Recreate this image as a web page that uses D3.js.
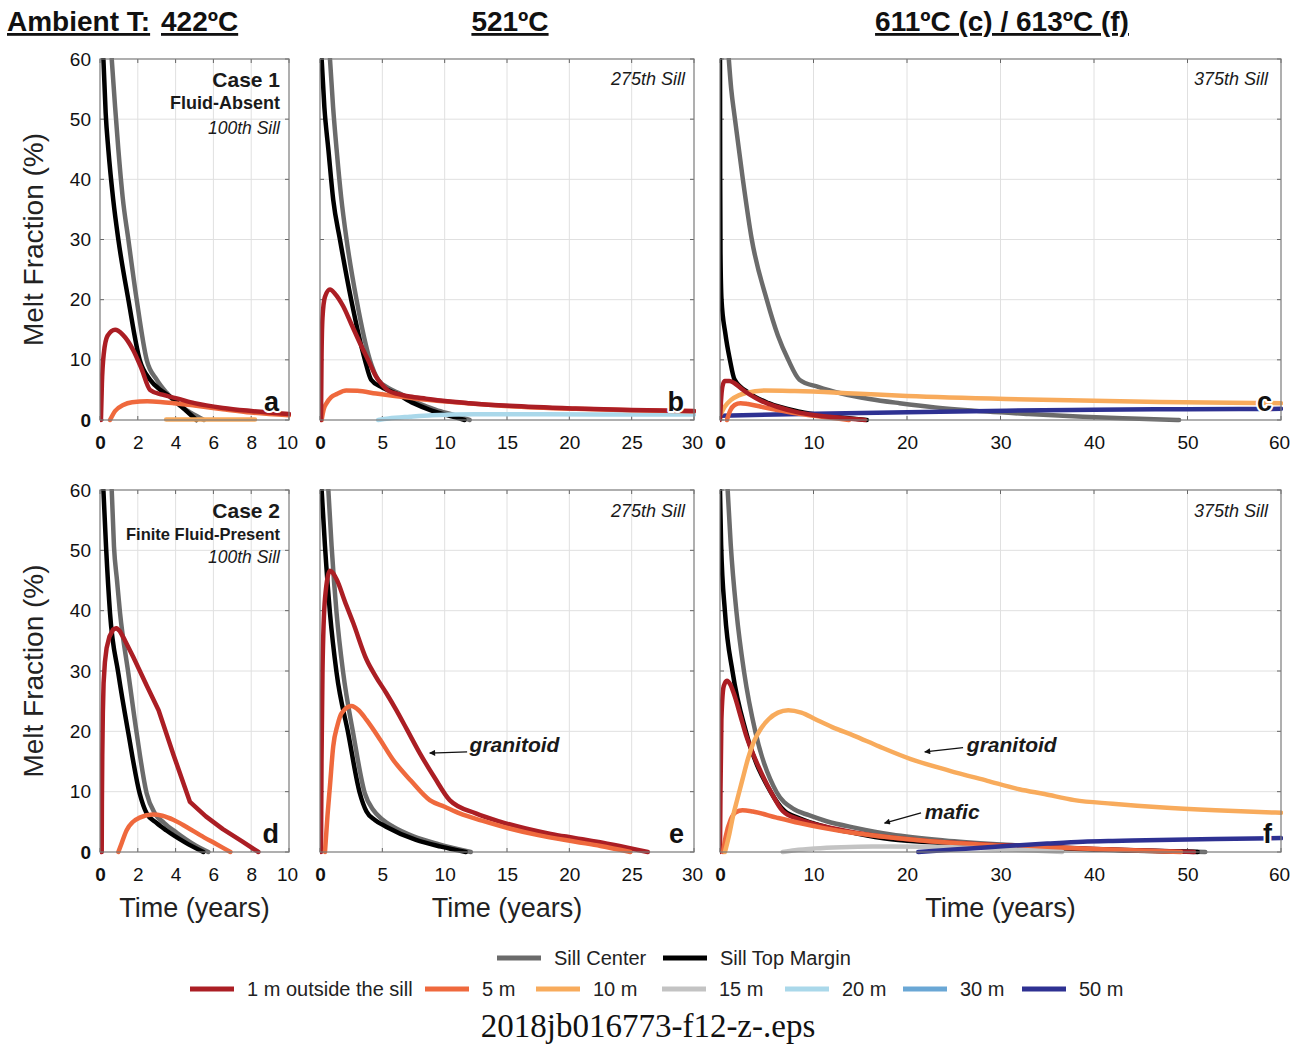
<!DOCTYPE html>
<html><head><meta charset="utf-8">
<script src="https://cdn.jsdelivr.net/npm/d3@7"></script>
<style>body{margin:0;background:#fff}svg{display:block}</style>
</head><body>
<script>
// ---------- DATA (time in years, melt fraction in %) ----------
const yTicks = [0,10,20,30,40,50,60];
const xTicksCol1 = [0,2,4,6,8,10];
const xTicksCol2 = [0,5,10,15,20,25,30];
const xTicksCol3 = [0,10,20,30,40,50,60];
const columnTitles = ["422ºC","521ºC","611ºC (c) / 613ºC (f)"];

// panel a
const a_center = [[0.62,60],[0.8,52],[0.97,45],[1.2,37],[1.5,30],[1.94,20],[2.47,10],[3.0,6.7],[3.5,4.6],[4.06,2.8],[4.8,1.2],[5.5,0]];
const a_margin = [[0.18,60],[0.3,51],[0.44,45],[0.7,36.6],[0.97,30],[1.5,20],[2.1,10],[2.65,6.7],[3.2,5],[3.7,3.9],[4.4,2],[5.1,0]];
const a_1m = [[0.05,0],[0.1,6],[0.2,11],[0.4,14],[0.8,15],[1.2,14.2],[1.76,11.6],[2.2,8.5],[2.65,5],[3.3,4.2],[4.06,3.6],[5,2.8],[6.5,2.0],[8,1.5],[10,1.0]];
const a_5m = [[0.53,0],[0.8,1.5],[1.23,2.5],[1.7,2.95],[2.5,3.1],[3.2,3.0],[3.9,2.8],[5,2.4],[6.5,1.8],[8,1.25],[10,0.8]];
const a_10m = [[3.5,0.1],[8.2,0.1]];
// panel b
const b_center = [[0.8,60],[1.05,52],[1.33,45],[1.7,37],[2.13,30],[2.93,20],[4.0,10],[4.66,6.7],[5.5,5.3],[6.4,4.4],[8,2.7],[9.3,1.7],[10.8,0.8],[12,0]];
const b_margin = [[0.13,60],[0.35,52],[0.67,45],[1.06,36.6],[1.6,30],[2.5,20],[3.6,10],[4.1,6.7],[5,5.4],[6.1,4.4],[7.5,2.8],[8.8,1.7],[10.2,0.8],[11.6,0]];
const b_1m = [[0.08,0],[0.12,10],[0.2,17],[0.4,20.5],[0.8,21.7],[1.2,21],[1.86,18.9],[2.5,16],[3.2,12.8],[3.9,9.8],[4.5,7.2],[5.0,5.8],[5.46,4.9],[6.3,4.3],[7.2,3.9],[8.5,3.55],[9.85,3.2],[12,2.8],[15.2,2.35],[20.5,1.9],[25,1.65],[30,1.5]];
const b_5m = [[0.13,0],[0.3,1.8],[0.53,2.8],[0.9,3.8],[1.33,4.3],[2.1,4.9],[3,4.85],[4.5,4.4],[6,4.0],[7.2,3.7],[9.85,3.1],[12,2.75],[15.2,2.3],[20.5,1.85],[25,1.6],[30,1.45]];
const b_20m = [[4.66,0],[5.5,0.25],[7.2,0.55],[9,0.8],[12.5,0.95],[18,0.95],[25,0.92],[30,0.9]];
// panel c
const c_center = [[0.94,60],[1.2,55],[1.56,50.5],[2.4,40.5],[3.4,30],[5.0,20],[6.2,14],[7.3,10],[8.5,6.7],[10.5,5.5],[13,4.4],[16,3.5],[19.2,2.8],[23,2.1],[28.6,1.4],[33,1],[38.8,0.55],[44,0.25],[49.1,0]];
const c_margin = [[0,60],[0.02,40],[0.05,28],[0.16,20],[0.57,14.4],[1.06,10],[1.56,6.7],[3.2,4.4],[5.2,2.8],[8.5,1.4],[12,0.6],[15.7,0]];
const c_1m = [[0,0],[0.1,3],[0.25,5.5],[0.5,6.5],[1.0,6.5],[1.56,6.1],[2.3,5.2],[3.2,4.2],[4.5,3.1],[6.1,2.2],[8,1.4],[10.2,0.8],[13,0.35],[15.5,0]];
const c_5m = [[0.74,0],[1.1,1.6],[1.56,2.5],[2.2,2.8],[3,2.65],[4.4,2.2],[6,1.7],[8.1,1.1],[10.5,0.6],[13.8,0]];
const c_10m = [[0.12,1.1],[0.5,2.2],[1.15,3.3],[2,4.1],[2.8,4.5],[4.8,4.9],[8,4.8],[14.3,4.4],[20,4.0],[30.6,3.5],[40,3.2],[47,3.0],[60,2.8]];
const c_50m = [[0,0.7],[10.2,1.05],[20,1.3],[30.6,1.55],[40,1.7],[50,1.8],[60,1.85]];
// panel d
const d_center = [[0.62,60],[0.74,50.6],[0.9,45],[1.06,39.6],[1.5,29.6],[1.94,19.7],[2.47,9.7],[2.9,6.4],[3.4,4.8],[4.06,3.2],[4.9,1.4],[5.73,0]];
const d_margin = [[0.18,60],[0.32,50.6],[0.53,39.6],[0.97,29.6],[1.5,19.7],[2.1,9.7],[2.47,6.4],[3.0,4.8],[3.5,3.6],[4.5,1.6],[5.47,0]];
const d_1m = [[0.09,0],[0.1,8],[0.12,16],[0.15,23],[0.19,28],[0.26,31.5],[0.35,33.8],[0.5,35.7],[0.7,36.9],[0.88,37.1],[1.05,36.6],[1.3,35.2],[1.76,32.3],[2.47,27.6],[3.1,23.5],[3.9,16],[4.76,8.3],[5.6,5.9],[6.5,3.8],[7.5,1.8],[8.38,0]];
const d_5m = [[0.97,0],[1.15,1.5],[1.41,3.6],[2.1,5.7],[2.8,6.2],[3.3,6.0],[3.9,5.3],[4.6,4.1],[5.3,2.8],[6.1,1.4],[6.9,0]];
// panel e
const e_center = [[0.67,60],[0.93,50.7],[1.33,39.6],[1.86,29.7],[2.66,19.7],[3.6,9.7],[4.26,7],[5.0,5.4],[5.86,4.2],[7.5,2.6],[9.5,1.3],[12.1,0]];
const e_margin = [[0.13,60],[0.4,50.7],[0.8,39.6],[1.33,29.7],[2.26,19.7],[3.2,9.7],[3.73,6.7],[4.4,5.3],[5.3,4.2],[7.7,2],[9.7,0.9],[11.7,0]];
const e_1m = [[0.08,0],[0.12,15],[0.2,30],[0.4,42],[0.8,46.6],[1.33,45.2],[2.0,41.5],[2.66,38],[3.73,31.9],[4.5,29],[5.3,26.4],[6.1,23.6],[7,20.2],[8,16.4],[9.2,12.3],[10.4,8.6],[12.5,6.4],[14.5,5],[16.5,3.9],[18.5,3],[20.5,2.3],[23.5,1.2],[26.3,0]];
const e_5m = [[0.4,0],[0.6,6],[0.8,11],[1.06,17.5],[1.4,21],[1.73,23],[2.53,24.2],[3.1,23.5],[3.73,21.9],[4.8,18.7],[5.86,15.3],[7.3,11.8],[8.8,8.6],[10,7.5],[11.2,6.4],[13,5.2],[15.2,3.9],[17.5,2.8],[20.5,1.7],[22.5,1],[24.9,0]];
// panel f
const f_center = [[0.82,60],[1.15,50.9],[1.76,39.8],[2.58,29.8],[3.8,19.8],[6.06,9.9],[7.9,7.1],[9.5,6.1],[11.4,5.1],[14.5,4],[18.3,2.9],[24,1.9],[30.6,1.2],[40,0.5],[51.9,0]];
const f_margin = [[0,60],[0.12,50.9],[0.53,39.8],[1.35,29.8],[2.8,19.8],[5.45,9.9],[6.9,6.8],[8.5,5.6],[11,4.3],[14.5,3.1],[18.3,2.1],[24,1.5],[30.6,1.0],[40,0.4],[51.1,0]];
const f_1m = [[0,0],[0.05,10],[0.15,22],[0.4,27.5],[0.74,28.4],[1.1,27.8],[1.56,25.9],[2.2,22.5],[2.8,19.3],[3.6,16],[4.4,13.2],[5.5,9.8],[6.7,6.8],[8.5,5.4],[11,4.3],[14.5,3.2],[18.3,2.4],[24,1.6],[30.6,1.1],[40,0.5],[50.7,0]];
const f_5m = [[0.33,0],[0.6,2.5],[1.15,5.4],[1.7,6.6],[2.4,6.9],[3.5,6.7],[6.06,5.7],[8.5,4.8],[11,4.0],[14.5,3.1],[18.3,2.4],[24,1.6],[30.6,1.0],[40,0.5],[49.3,0]];
const f_10m = [[0.53,0],[1.0,3],[1.4,6],[1.76,8.2],[2.4,12],[3.0,15.5],[3.6,18.2],[4.4,20.5],[5.2,22],[6.2,23.1],[7.3,23.5],[8.7,23.1],[10.2,22],[12,20.7],[14.3,19.3],[17,17.5],[20.4,15.4],[24.5,13.5],[28.6,11.8],[32,10.4],[34.7,9.6],[37.9,8.6],[42,8.0],[47,7.4],[53,6.9],[60,6.5]];
const f_15m = [[6.7,0],[8,0.3],[10.2,0.6],[13,0.8],[16.3,0.9],[22.4,0.85],[27,0.65],[30.6,0.45],[34,0.2],[36.6,0]];
const f_50m = [[21.2,0],[25,0.4],[30.6,1.0],[35,1.4],[38.8,1.7],[43,1.85],[47,2.0],[53,2.15],[60,2.3]];

const legendRow1 = [["center","Sill Center"],["margin","Sill Top Margin"]];
const legendRow2 = [["m1","1 m outside the sill"],["m5","5 m"],["m10","10 m"],["m15","15 m"],["m20","20 m"],["m30","30 m"],["m50","50 m"]];

// ---------- STYLE / LAYOUT ----------
const colors = {center:"#6b6b6b", margin:"#000000", m1:"#ab1e24", m5:"#ef693d", m10:"#f8ab5c", m15:"#c3c3c3", m20:"#aad8ea", m30:"#6aa7d5", m50:"#2e3192"};
const cols = [
  {x0:100, x1:289, xmax:10, ticks:xTicksCol1},
  {x0:320, x1:694, xmax:30, ticks:xTicksCol2},
  {x0:720, x1:1281, xmax:60, ticks:xTicksCol3}
];
const rows = [{y0:59, y1:420},{y0:490, y1:852}];
const legendRow1X = [497, 663];
const legendRow2X = [190, 425, 536, 662, 785, 903, 1022];
const SANS = "'Liberation Sans', Arial, Helvetica, sans-serif";

// series entries: [colour key, data, optional curve ("linear" for kinked, piecewise curves)]
const panels = [
  {letter:"a", col:0, row:0, series:[["center",a_center],["margin",a_margin],["m10",a_10m],["m5",a_5m],["m1",a_1m]],
    notes:[["Case 1","bold",21,87],["Fluid-Absent","bold",18,109],["100th Sill","italic",17.5,134]]},
  {letter:"b", col:1, row:0, series:[["center",b_center],["margin",b_margin],["m20",b_20m],["m5",b_5m],["m1",b_1m]],
    notes:[["275th Sill","italic",18,85]]},
  {letter:"c", col:2, row:0, series:[["center",c_center],["margin",c_margin],["m50",c_50m],["m10",c_10m],["m5",c_5m],["m1",c_1m]],
    notes:[["375th Sill","italic",18,85]]},
  {letter:"d", col:0, row:1, series:[["center",d_center],["margin",d_margin],["m5",d_5m],["m1",d_1m,"linear"]],
    notes:[["Case 2","bold",21,518],["Finite Fluid-Present","bold",16.5,540],["100th Sill","italic",17.5,563]]},
  {letter:"e", col:1, row:1, series:[["center",e_center],["margin",e_margin],["m1",e_1m],["m5",e_5m]],
    notes:[["275th Sill","italic",18,517]],
    arrows:[{text:"granitoid", tail:[11.8,16.6], tip:[8.8,16.4], tx:12.0, ty:16.8}]},
  {letter:"f", col:2, row:1, series:[["center",f_center],["margin",f_margin],["m1",f_1m],["m5",f_5m],["m10",f_10m],["m15",f_15m],["m50",f_50m]],
    notes:[["375th Sill","italic",18,517]],
    arrows:[{text:"granitoid", tail:[26.0,17.3], tip:[21.9,16.6], tx:26.4, ty:16.8},
            {text:"mafic", tail:[21.5,6.5], tip:[17.6,4.8], tx:21.9, ty:5.6}]}
];

const W = 1303, H = 1047;
const svg = d3.select("body").append("svg").attr("width", W).attr("height", H)
  .style("font-family", SANS);

const defs = svg.append("defs");
defs.append("marker").attr("id","arrowhead").attr("viewBox","0 0 10 10")
  .attr("refX",9).attr("refY",5).attr("markerWidth",7).attr("markerHeight",6)
  .attr("markerUnits","userSpaceOnUse").attr("orient","auto")
  .append("path").attr("d","M0,0 L10,5 L0,10 z").attr("fill","#111");

panels.forEach((p, i) => {
  const c = cols[p.col], r = rows[p.row];
  const x = d3.scaleLinear().domain([0, c.xmax]).range([c.x0, c.x1]);
  const y = d3.scaleLinear().domain([0, 60]).range([r.y1, r.y0]);
  const g = svg.append("g");

  // grid
  g.append("g").selectAll("line").data(c.ticks.slice(1, -1)).join("line")
    .attr("x1", d => x(d)).attr("x2", d => x(d)).attr("y1", r.y0).attr("y2", r.y1)
    .attr("stroke", "#e0e0e0").attr("stroke-width", 1);
  g.append("g").selectAll("line").data(yTicks.slice(1, -1)).join("line")
    .attr("y1", d => y(d)).attr("y2", d => y(d)).attr("x1", c.x0).attr("x2", c.x1)
    .attr("stroke", "#e0e0e0").attr("stroke-width", 1);

  // inner ticks on all sides
  const tl = 4;
  const tk = g.append("g").attr("stroke", "#666").attr("stroke-width", 1);
  c.ticks.forEach(t => {
    tk.append("line").attr("x1", x(t)).attr("x2", x(t)).attr("y1", r.y1).attr("y2", r.y1 - tl);
    tk.append("line").attr("x1", x(t)).attr("x2", x(t)).attr("y1", r.y0).attr("y2", r.y0 + tl);
  });
  yTicks.forEach(t => {
    tk.append("line").attr("y1", y(t)).attr("y2", y(t)).attr("x1", c.x0).attr("x2", c.x0 + tl);
    tk.append("line").attr("y1", y(t)).attr("y2", y(t)).attr("x1", c.x1).attr("x2", c.x1 - tl);
  });

  // clip
  const cid = "clip" + i;
  defs.append("clipPath").attr("id", cid).append("rect")
    .attr("x", c.x0).attr("y", r.y0 - 1).attr("width", c.x1 - c.x0 + 2).attr("height", r.y1 - r.y0 + 4);

  const lg = g.append("g").attr("clip-path", `url(#${cid})`);
  p.series.forEach(([key, data, curve]) => {
    const line = d3.line().x(d => x(d[0])).y(d => y(d[1]))
      .curve(curve === "linear" ? d3.curveLinear : d3.curveMonotoneX);
    lg.append("path").datum(data).attr("d", line)
      .attr("fill", "none").attr("stroke", colors[key])
      .attr("stroke-width", 4.5).attr("stroke-linecap", "round").attr("stroke-linejoin", "round");
  });

  // box
  g.append("rect").attr("x", c.x0).attr("y", r.y0).attr("width", c.x1 - c.x0).attr("height", r.y1 - r.y0)
    .attr("fill", "none").attr("stroke", "#7a7a7a").attr("stroke-width", 1.2);

  // x axis labels
  const xa = g.append("g").attr("transform", `translate(0,${r.y1})`)
    .call(d3.axisBottom(x).tickValues(c.ticks).tickSize(0).tickPadding(16).tickFormat(d3.format("d")));
  xa.select(".domain").remove();
  xa.selectAll("text").attr("font-size", 19).attr("font-family", SANS).attr("fill", "#111")
    .attr("font-weight", d => d === 0 ? "bold" : "normal")
    .attr("dx", d => d === c.xmax ? -2 : 0);

  // y axis labels (left column only)
  if (p.col === 0) {
    const ya = g.append("g").attr("transform", `translate(${c.x0},0)`)
      .call(d3.axisLeft(y).tickValues(yTicks).tickSize(0).tickPadding(9).tickFormat(d3.format("d")));
    ya.select(".domain").remove();
    ya.selectAll("text").attr("font-size", 19).attr("font-family", SANS).attr("fill", "#111")
      .attr("font-weight", d => d === 0 ? "bold" : "normal");
  }

  // notes (top-right)
  const noteRight = p.col === 2 ? c.x1 - 13 : c.x1 - 9;
  p.notes.forEach(([txt, style, size, base]) => {
    g.append("text").attr("x", noteRight).attr("y", base).attr("text-anchor", "end")
      .attr("font-size", size)
      .attr("font-weight", style === "bold" ? "bold" : "normal")
      .attr("font-style", style === "italic" ? "italic" : "normal")
      .attr("fill", "#1a1a1a").text(txt);
  });

  // arrows + annotation text
  (p.arrows || []).forEach(a => {
    g.append("line").attr("x1", x(a.tail[0])).attr("y1", y(a.tail[1]))
      .attr("x2", x(a.tip[0])).attr("y2", y(a.tip[1]))
      .attr("stroke", "#111").attr("stroke-width", 1.3).attr("marker-end", "url(#arrowhead)");
    g.append("text").attr("x", x(a.tx)).attr("y", y(a.ty) + 1)
      .attr("font-size", 21).attr("font-weight", "bold").attr("font-style", "italic")
      .attr("fill", "#1a1a1a").text(a.text);
  });

  // panel letter
  g.append("text").attr("x", c.x1 - (p.col === 2 ? 9 : 10)).attr("y", r.y1 - 9)
    .attr("text-anchor", "end").attr("font-size", 27).attr("font-weight", "bold")
    .attr("fill", "#111").attr("stroke", "#fff").attr("stroke-width", 4)
    .attr("paint-order", "stroke").attr("stroke-linejoin", "round")
    .text(p.letter);
});

// Y axis titles
rows.forEach(r => {
  svg.append("text").attr("transform", `translate(43,${(r.y0 + r.y1) / 2}) rotate(-90)`)
    .attr("text-anchor", "middle").attr("font-size", 28).attr("fill", "#222").text("Melt Fraction (%)");
});
// X axis titles
cols.forEach(c => {
  svg.append("text").attr("x", (c.x0 + c.x1) / 2).attr("y", 917)
    .attr("text-anchor", "middle").attr("font-size", 27).attr("fill", "#222").text("Time (years)");
});

// Column titles
function title(txt, xx, anchor) {
  svg.append("text").attr("x", xx).attr("y", 31).attr("text-anchor", anchor)
    .attr("font-weight", "bold").attr("font-size", 28)
    .attr("text-decoration", "underline").attr("fill", "#111").text(txt);
}
title("Ambient T:", 7, "start");
title(columnTitles[0], 161, "start");
title(columnTitles[1], 510, "middle");
title(columnTitles[2], 1002, "middle");

// Legend
function legendRow(items, xs, yy) {
  items.forEach(([key, label], k) => {
    const cx = xs[k];
    svg.append("line").attr("x1", cx).attr("x2", cx + 44).attr("y1", yy).attr("y2", yy)
      .attr("stroke", colors[key]).attr("stroke-width", 5);
    svg.append("text").attr("x", cx + 57).attr("y", yy + 7).attr("font-size", 20)
      .attr("fill", "#222").text(label);
  });
}
legendRow(legendRow1, legendRow1X, 958);
legendRow(legendRow2, legendRow2X, 989);

// caption
svg.append("text").attr("x", 648).attr("y", 1037).attr("text-anchor", "middle")
  .attr("font-family", "'Liberation Serif', 'DejaVu Serif', serif").attr("font-size", 33)
  .attr("fill", "#111").text("2018jb016773-f12-z-.eps");
</script>
</body></html>
